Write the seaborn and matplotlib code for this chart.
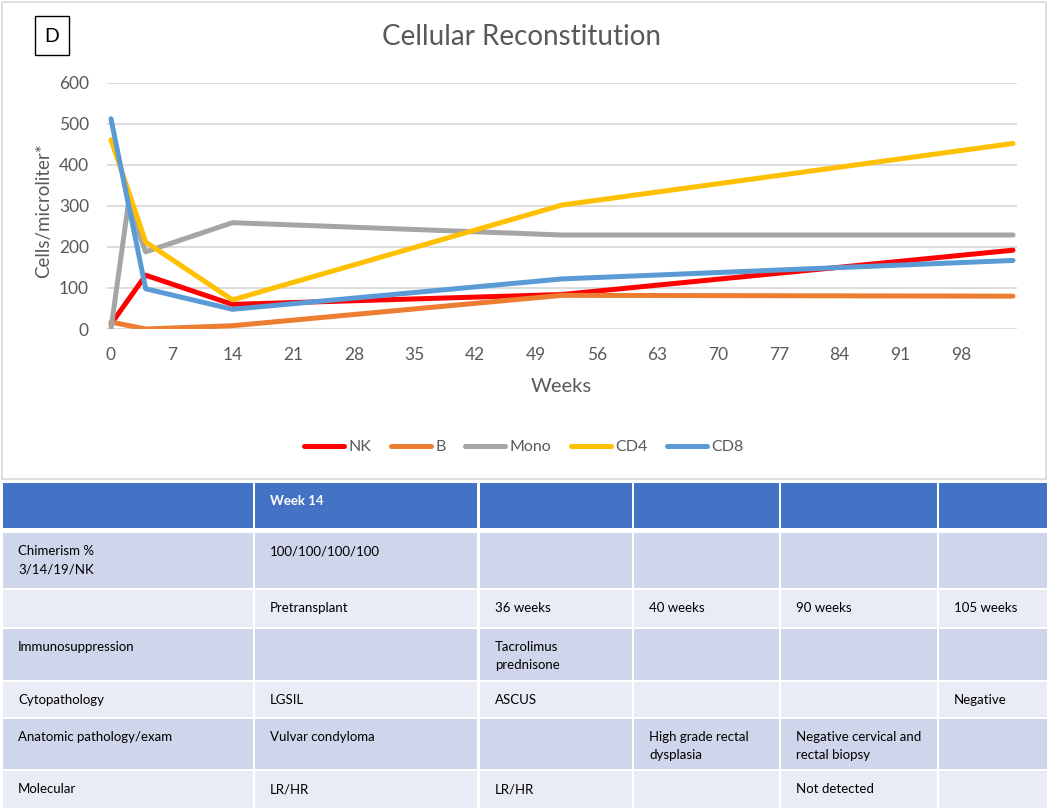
import pandas as pd
import matplotlib.pyplot as plt
import seaborn as sns
from matplotlib.patches import Rectangle
from matplotlib.lines import Line2D

# series (weeks / cells per microliter)
cell_types = ['NK', 'B', 'Mono', 'CD4', 'CD8']
nk_weeks = [0, 4, 14, 52, 104]
nk_vals = [12, 131, 60, 84, 192]
b_weeks = [0, 4, 14, 52, 104]
b_vals = [17, 0, 8, 82, 80]
mono_weeks = [0, 2, 4, 14, 52, 104]
mono_vals = [0, 305, 188, 259, 229, 229]
cd4_weeks = [0, 4, 14, 52, 104]
cd4_vals = [461, 212, 71, 302, 452]
cd8_weeks = [0, 4, 14, 52, 104]
cd8_vals = [512, 98, 48, 122, 167]
line_colors = ['#FF0000', '#ED7D31', '#A5A5A5', '#FFC000', '#5B9BD5']
week_ticks = [0, 7, 14, 21, 28, 35, 42, 49, 56, 63, 70, 77, 84, 91, 98]
cell_ticks = [0, 100, 200, 300, 400, 500, 600]

# table below the chart
table_header = ['', 'Week 14', '', '', '', '']
table_rows = [
    ['Chimerism %\n3/14/19/NK', '100/100/100/100', '', '', '', ''],
    ['', 'Pretransplant', '36 weeks', '40 weeks', '90 weeks', '105 weeks'],
    ['Immunosuppression', '', 'Tacrolimus\nprednisone', '', '', ''],
    ['Cytopathology', 'LGSIL', 'ASCUS', '', '', 'Negative'],
    ['Anatomic pathology/exam', 'Vulvar condyloma', '', 'High grade rectal\ndysplasia',
     'Negative cervical and\nrectal biopsy', ''],
    ['Molecular', 'LR/HR', 'LR/HR', '', 'Not detected', ''],
]

frames = []
for name, wk, vals in zip(cell_types,
                          [nk_weeks, b_weeks, mono_weeks, cd4_weeks, cd8_weeks],
                          [nk_vals, b_vals, mono_vals, cd4_vals, cd8_vals]):
    frames.append(pd.DataFrame({'week': wk, 'cells': vals, 'type': name}))
df = pd.concat(frames, ignore_index=True)

sns.set_style('white')
plt.rcParams['font.family'] = ['Lato', 'DejaVu Sans']
plt.rcParams['lines.solid_capstyle'] = 'round'
plt.rcParams['lines.solid_joinstyle'] = 'round'

W, H = 1050, 808
grey_txt = '#595959'
fig = plt.figure(figsize=(10.5, 8.08), dpi=100)

# background layer in pixel coordinates
bg = fig.add_axes([0, 0, 1, 1], zorder=0)
bg.set_xlim(0, W)
bg.set_ylim(H, 0)
bg.axis('off')
bg.add_patch(Rectangle((1.5, 1.5), 1044, 477, fill=False, edgecolor='#D9D9D9', lw=1.2))
bg.add_patch(Rectangle((35, 16), 34, 39, fill=False, edgecolor='black', lw=1))
bg.text(52, 36, 'D', ha='center', va='center', fontsize=14, color='black')
bg.text(521, 37, 'Cellular Reconstitution', ha='center', va='center',
        fontsize=20, color=grey_txt)
bg.text(44, 211, 'Cells/microliter*', rotation=90, ha='center', va='center',
        fontsize=13.5, color=grey_txt)
bg.text(561, 387, 'Weeks', ha='center', va='center', fontsize=14.5, color=grey_txt)

# table
col_left = [3, 255, 480, 634, 781, 939]
col_right = [253, 477, 632, 779, 937, 1047]
row_top = [483, 533, 590, 629, 682, 719, 771]
row_bot = [528, 588, 627, 680, 717, 769, 808]
fills = ['#4472C4', '#CFD5EA', '#E9EBF5', '#CFD5EA', '#E9EBF5', '#CFD5EA', '#E9EBF5']
for r, row in enumerate([table_header] + table_rows):
    for c, txt in enumerate(row):
        bg.add_patch(Rectangle((col_left[c], row_top[r]), col_right[c] - col_left[c],
                               row_bot[r] - row_top[r], facecolor=fills[r], edgecolor='none'))
        for i, line in enumerate(txt.split('\n')):
            if not line:
                continue
            bg.text(col_left[c] + 15, row_top[r] + 22 + 18 * i, line, ha='left', va='baseline',
                    fontsize=9.5, color='white' if r == 0 else 'black',
                    fontweight='bold' if r == 0 else 'normal')

# line chart
ax = fig.add_axes([107 / W, (H - 329) / H, (1017 - 107) / W, (329 - 82.7) / H], zorder=1)
ax.set_facecolor('none')
sns.lineplot(data=df, x='week', y='cells', hue='type', hue_order=cell_types,
             palette=dict(zip(cell_types, line_colors)), estimator=None, sort=False,
             linewidth=3.6, legend=False, ax=ax)
ax.set_xlim(-0.46, 104.46)
ax.set_ylim(0, 600)
ax.set_xticks(week_ticks)
ax.set_yticks(cell_ticks)
ax.yaxis.grid(True, color='#D9D9D9', lw=1.3)
ax.xaxis.grid(False)
ax.set_axisbelow(True)
sns.despine(ax=ax, left=True, bottom=True)
ax.tick_params(axis='x', length=0, labelsize=12.5, labelcolor=grey_txt, pad=13)
ax.tick_params(axis='y', length=0, labelsize=12.5, labelcolor=grey_txt, pad=13)
ax.set_xlabel('')
ax.set_ylabel('')

handles = [Line2D([], [], color=c, lw=3.6) for c in line_colors]
fig.legend(handles, cell_types, loc='center', bbox_to_anchor=(524 / W, 1 - 447 / H),
           ncol=5, frameon=False, fontsize=11.5, handlelength=2.5, handletextpad=0.3,
           columnspacing=1.2, labelcolor=grey_txt)

plt.savefig('out.png', dpi=100)
